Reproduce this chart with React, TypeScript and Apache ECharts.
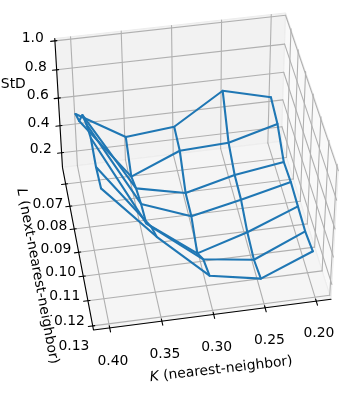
import React, { useEffect, useRef } from "react";
import * as echarts from "echarts";

const kValues = [0.4, 0.35, 0.3, 0.25, 0.2];
const lValues = [0.065, 0.075, 0.085, 0.095, 0.105, 0.115, 0.125];
const kTicks = [0.4, 0.35, 0.3, 0.25, 0.2];
const lTicks = [0.07, 0.08, 0.09, 0.1, 0.11, 0.12, 0.13];
const stdTicks = [0.2, 0.4, 0.6, 0.8, 1.0];
const stdRow1 = [0.513, 0.303, 0.337, 0.558, 0.47];
const stdRow2 = [0.619, 0.17, 0.319, 0.336, 0.431];
const stdRow3 = [0.817, 0.249, 0.17, 0.26, 0.312];
const stdRow4 = [0.911, 0.302, 0.165, 0.244, 0.329];
const stdRow5 = [0.974, 0.331, 0.062, 0.173, 0.319];
const stdRow6 = [0.94, 0.478, 0.196, 0.145, 0.308];
const stdRow7 = [0.961, 0.582, 0.255, 0.185, 0.338];
const stdRows = [stdRow1, stdRow2, stdRow3, stdRow4, stdRow5, stdRow6, stdRow7];

const kTickLabels = ["0.40", "0.35", "0.30", "0.25", "0.20"];
const lTickLabels = ["0.07", "0.08", "0.09", "0.10", "0.11", "0.12", "0.13"];
const stdTickLabels = ["0.2", "0.4", "0.6", "0.8", "1.0"];

// view box limits
const Kn = 0.4155, Kf = 0.1855, Lo = 0.0624, Lh = 0.1316, Z0 = 0.09, Z1 = 1.016;

// pinhole camera matrix of the 3D view
const CAM = [
  [-103.08, 10.81, -6.05, 194.1],
  [11.14, 62.66, -75.16, 182.08],
  [-0.00641, -0.03731, -0.02966, 1],
];
function project(k: number, l: number, z: number): [number, number] {
  const u = (k - 0.3) / 0.1, v = (l - 0.1) / 0.03, w = (z - 0.5) / 0.5;
  const d = CAM[2][0] * u + CAM[2][1] * v + CAM[2][2] * w + CAM[2][3];
  return [
    (CAM[0][0] * u + CAM[0][1] * v + CAM[0][2] * w + CAM[0][3]) / d,
    (CAM[1][0] * u + CAM[1][1] * v + CAM[1][2] * w + CAM[1][3]) / d,
  ];
}
type P3 = [number, number, number];
const lineSeries = (pts: P3[], color: string, width: number, z: number) => ({
  type: "line", data: pts.map((p) => project(p[0], p[1], p[2])), symbol: "none", silent: true, z,
  lineStyle: { color, width, cap: "round", join: "round" }, animation: false, clip: false,
});

function buildSeries() {
  const s: any[] = [];
  const panes: { pts: P3[]; fill: string }[] = [
    { pts: [[Kn, Lo, Z0], [Kf, Lo, Z0], [Kf, Lo, Z1], [Kn, Lo, Z1]], fill: "#f2f2f2" },
    { pts: [[Kf, Lo, Z0], [Kf, Lh, Z0], [Kf, Lh, Z1], [Kf, Lo, Z1]], fill: "#f9f9f9" },
    { pts: [[Kn, Lo, Z0], [Kf, Lo, Z0], [Kf, Lh, Z0], [Kn, Lh, Z0]], fill: "#f5f5f5" },
  ];
  s.push({
    type: "custom", coordinateSystem: "cartesian2d", silent: true, z: 1, clip: false,
    data: panes.map((_, i) => [i]),
    encode: { x: 0, y: 0 },
    renderItem: (params: any, api: any) => {
      const pane = panes[params.dataIndex];
      return {
        type: "polygon",
        shape: { points: pane.pts.map((p) => api.coord(project(p[0], p[1], p[2]))) },
        style: { fill: pane.fill, stroke: "#ececec", lineWidth: 1 },
      };
    },
  });
  const grid = "#b0b0b0";
  for (const k of kTicks) {
    s.push(lineSeries([[k, Lo, Z0], [k, Lh, Z0]], grid, 1.1, 2));
    s.push(lineSeries([[k, Lo, Z0], [k, Lo, Z1]], grid, 1.1, 2));
  }
  for (const l of lTicks) {
    s.push(lineSeries([[Kn, l, Z0], [Kf, l, Z0]], grid, 1.1, 2));
    s.push(lineSeries([[Kf, l, Z0], [Kf, l, Z1]], grid, 1.1, 2));
  }
  for (const z of stdTicks) {
    s.push(lineSeries([[Kn, Lo, z], [Kf, Lo, z]], grid, 1.1, 2));
    s.push(lineSeries([[Kf, Lo, z], [Kf, Lh, z]], grid, 1.1, 2));
  }
  s.push(lineSeries([[Kn, Lo, Z1], [Kn, Lo, Z0], [Kn, Lh, Z0], [Kf, Lh, Z0]], "#000", 1.1, 3));
  for (const z of stdTicks) s.push(lineSeries([[Kn - 0.002, Lo, z], [Kn + 0.0042, Lo, z]], "#000", 1.1, 3));
  for (const l of lTicks) s.push(lineSeries([[Kn - 0.002, l, Z0], [Kn + 0.0042, l, Z0]], "#000", 1.1, 3));
  for (const k of kTicks) s.push(lineSeries([[k, Lh - 0.0008, Z0], [k, Lh + 0.0016, Z0]], "#000", 1.1, 3));

  const wire = "#1f77b4";
  lValues.forEach((l, i) => {
    s.push(lineSeries(kValues.map((k, j) => [k, l, stdRows[i][j]] as P3), wire, 2.1, 4));
  });
  kValues.forEach((k, j) => {
    s.push(lineSeries(lValues.map((l, i) => [k, l, stdRows[i][j]] as P3), wire, 2.1, 4));
  });
  return s;
}

const FONT = '"DejaVu Sans"';
const FS = 13.9;
const label = (text: string, x: number, y: number) => ({
  type: "text", x, y, silent: true, z: 10,
  style: { text, fontFamily: FONT, fontSize: FS, fill: "#000", align: "center", verticalAlign: "middle" },
});
const kLabelPos = [[113, 360.3], [165, 353.3], [216.7, 346.3], [269.5, 339], [319, 332.3]];
const lLabelPos = [[48, 203], [52, 225.3], [56, 248], [60.7, 271.3], [64.8, 295.3], [69.5, 320.3], [74, 345.3]];
const zLabelPos = [[40.7, 148.3], [38.5, 122.3], [37.7, 94.3], [35.7, 66], [32.7, 37.3]];

function buildGraphic() {
  const g: any[] = [];
  kTickLabels.forEach((t, i) => g.push(label(t, kLabelPos[i][0], kLabelPos[i][1])));
  lTickLabels.forEach((t, i) => g.push(label(t, lLabelPos[i][0], lLabelPos[i][1])));
  stdTickLabels.forEach((t, i) => g.push(label(t, zLabelPos[i][0], zLabelPos[i][1])));
  g.push(label("StD", 13.3, 83.3));
  const title = (text: string, x: number, y: number, rotation: number) => ({
    type: "text", x, y, rotation, silent: true, z: 10,
    style: {
      text, fontFamily: FONT, fontSize: FS, fill: "#000", align: "center", verticalAlign: "middle",
      rich: { i: { fontStyle: "italic", fontFamily: FONT, fontSize: FS, fill: "#000" } },
    },
  });
  g.push(title("{i|K} (nearest-neighbor)", 221, 368, 0.115));
  g.push(title("{i|L} (next-nearest-neighbor)", 38.8, 276, -1.384));
  return g;
}

export default function App() {
  const ref = useRef<HTMLDivElement>(null);
  useEffect(() => {
    const chart = echarts.init(ref.current!, undefined, { renderer: "svg" });
    chart.setOption({
      animation: false,
      grid: { left: 0, right: 0, top: 0, bottom: 0 },
      xAxis: { type: "value", min: 0, max: 349, show: false },
      yAxis: { type: "value", min: 0, max: 395, inverse: true, show: false },
      series: buildSeries(),
      graphic: buildGraphic(),
    });
    return () => chart.dispose();
  }, []);
  return <div ref={ref} style={{ position: "fixed", left: 0, top: 0, width: 349, height: 395 }} />;
}
